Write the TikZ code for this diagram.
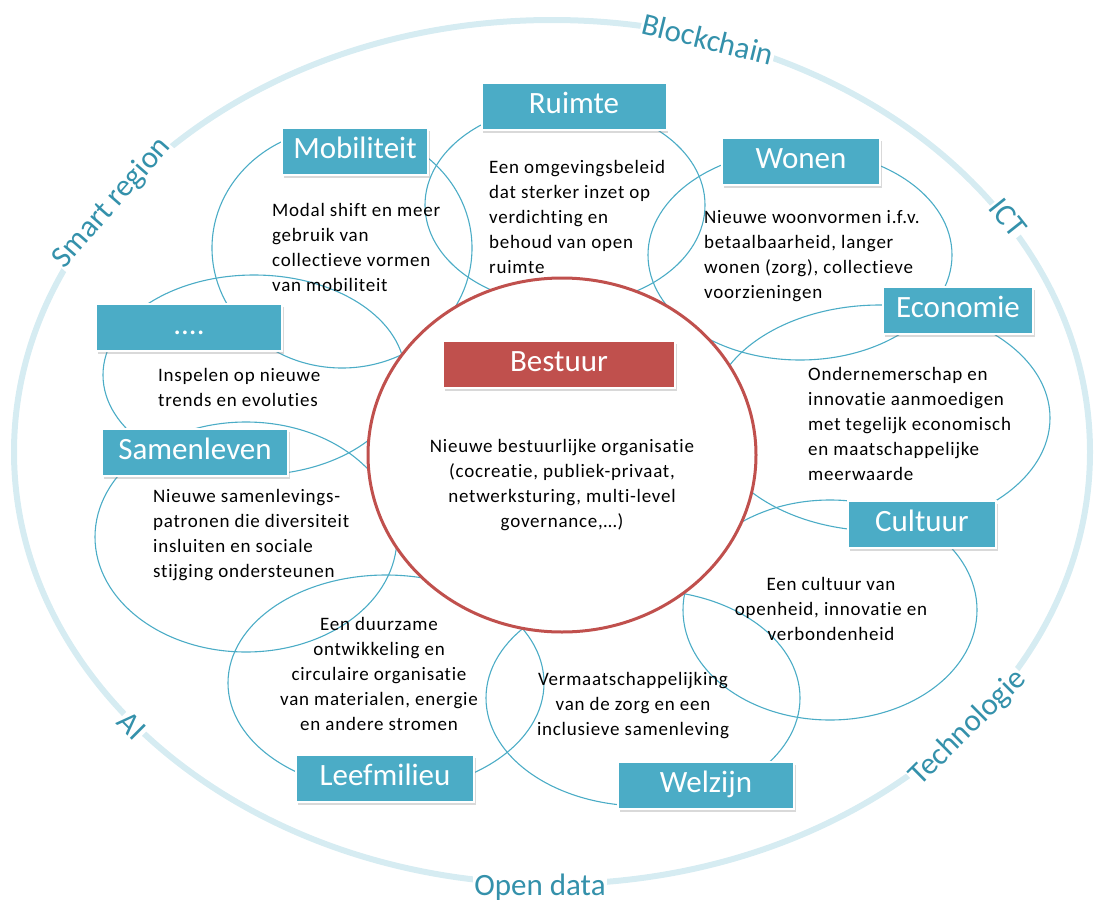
\documentclass[tikz,border=0pt]{standalone}
\usepackage{fontspec}
\setmainfont{Carlito}[Ligatures=NoCommon]
\usepackage{tikz}
\usetikzlibrary{shadows}
\definecolor{ringblue}{RGB}{214,236,242}
\definecolor{tagblue}{RGB}{52,145,171}
\definecolor{vennblue}{RGB}{75,172,198}
\definecolor{boxblue}{RGB}{75,172,198}
\definecolor{boxred}{RGB}{192,80,77}
\tikzset{
  ring/.style={draw=ringblue,line width=6pt},
  venn/.style={draw=vennblue,line width=1.1pt},
  blk/.style={draw=white,line width=2pt,text=white,inner sep=0pt,minimum height=47pt,
    text height=21pt,text depth=6pt,font=\fontsize{31}{36}\selectfont,
    drop shadow={shadow xshift=1.5pt,shadow yshift=-3pt,opacity=0.3}},
  cat/.style={blk,fill=boxblue},
  core/.style={blk,fill=boxred},
  txt/.style={inner sep=0pt,font=\fontsize{19}{25}\selectfont\addfontfeature{LetterSpace=4}},
  tag/.style={text=tagblue,fill=white,inner sep=1pt,font=\fontsize{31}{36}\selectfont},
}

\begin{document}
\begin{tikzpicture}[x=1pt,y=-1pt]
  \useasboundingbox (0,0) rectangle (1100,902);
  % outer ring with the enabling technologies
  \draw[ring] (552,452) ellipse [x radius=538, y radius=432];
  \node[tag,rotate=48.7]  (smart) at (112,203) {Smart region};
  \node[tag,rotate=-13.7] (chain) at (708,39)  {Blockchain};
  \node[tag,rotate=-51.6] (ict)   at (1008,218) {ICT};
  \node[tag,rotate=44.7]  (tech)  at (968,728) {Technologie};
  \node[tag,rotate=-45]   (ai)    at (132,726) {AI};
  \node[tag]              (open)  at (540,887) {Open data};

  % one thin ellipse per theme
  \foreach \cx/\cy/\rx/\ry in {342/248/130/120, 565/205/140/100, 800/255/152/105,
      880/418/170/113, 830/610/147/110, 643/698/157/108, 386/683/158/108,
      246/537/151/115, 254/375/151/100}
    \draw[venn] (\cx,\cy) ellipse [x radius=\rx, y radius=\ry];

  \draw[boxred,line width=3pt,fill=white] (562,455) ellipse [x radius=194, y radius=177];

  \node[txt,anchor=north west,align=left] (mob-t) at (272,203)
    {Modal shift en meer\\gebruik van\\collectieve vormen\\van mobiliteit};
  \node[txt,anchor=north west,align=left] (ruimte-t) at (489,160)
    {Een omgevingsbeleid\\dat sterker inzet op\\verdichting en\\behoud van open\\ruimte};
  \node[txt,anchor=north west,align=left] (wonen-t) at (704,210)
    {Nieuwe woonvormen i.f.v.\\betaalbaarheid, langer\\wonen (zorg), collectieve\\voorzieningen};
  \node[txt,anchor=north west,align=left] (eco-t) at (808,367)
    {Ondernemerschap en\\innovatie aanmoedigen\\met tegelijk economisch\\en maatschappelijke\\meerwaarde};
  \node[txt,anchor=north,align=center] (cult-t) at (831,577)
    {Een cultuur van\\openheid, innovatie en\\verbondenheid};
  \node[txt,anchor=north,align=center] (welz-t) at (633,672)
    {Vermaatschappelijking\\van de zorg en een\\inclusieve samenleving};
  \node[txt,anchor=north,align=center] (leef-t) at (379,617)
    {Een duurzame\\ontwikkeling en\\circulaire organisatie\\van materialen, energie\\en andere stromen};
  \node[txt,anchor=north west,align=left] (samen-t) at (153,489)
    {Nieuwe samenlevings-\\patronen die diversiteit\\insluiten en sociale\\stijging ondersteunen};
  \node[txt,anchor=north west,align=left] (trend-t) at (158,368)
    {Inspelen op nieuwe\\trends en evoluties};
  \node[txt,anchor=north,align=center] (best-t) at (562,439)
    {Nieuwe bestuurlijke organisatie\\(cocreatie, publiek-privaat,\\netwerksturing, multi-level\\governance,…)};

  \node[core,minimum width=232pt] (bestuur) at (559,364) {Bestuur};
  \node[cat,minimum width=146pt] (mobiliteit) at (355,151) {Mobiliteit};
  \node[cat,minimum width=185pt] (ruimte) at (574,106) {Ruimte};
  \node[cat,minimum width=158pt] (wonen) at (801,161) {Wonen};
  \node[cat,minimum width=150pt] (economie) at (958,310) {Economie};
  \node[cat,minimum width=148pt] (cultuur) at (922,524) {Cultuur};
  \node[cat,minimum width=176pt] (welzijn) at (706,785) {Welzijn};
  \node[cat,minimum width=178pt] (leefmilieu) at (385,778) {Leefmilieu};
  \node[cat,minimum width=186pt] (samenleven) at (195,452) {Samenleven};
  \node[cat,minimum width=186pt] (nieuw) at (189,327) {....};
\end{tikzpicture}
\end{document}
